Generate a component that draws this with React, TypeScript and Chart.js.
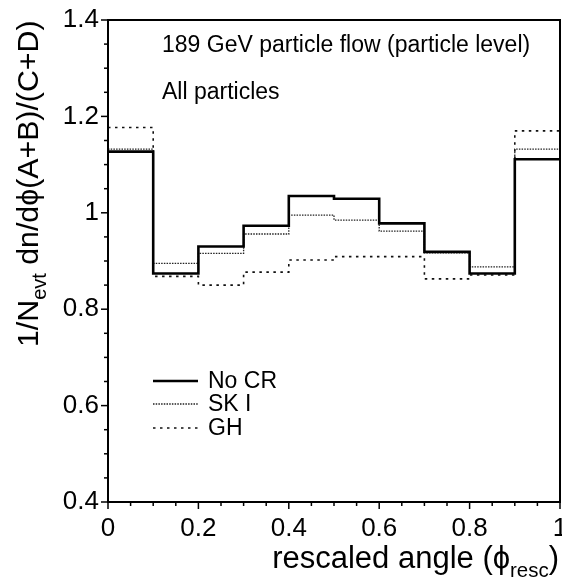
import React, { useEffect, useRef } from "react";
import { Chart, registerables } from "chart.js";

Chart.register(...registerables);

// ---- data ----
const binEdges = [0, 0.1, 0.2, 0.3, 0.4, 0.5, 0.6, 0.7, 0.8, 0.9, 1.0];
const noCR = [1.127, 0.874, 0.93, 0.973, 1.035, 1.029, 0.978, 0.919, 0.874, 1.111];
const skI = [1.132, 0.895, 0.916, 0.956, 0.995, 0.985, 0.962, 0.917, 0.888, 1.132];
const gh = [1.177, 0.868, 0.85, 0.877, 0.902, 0.909, 0.909, 0.863, 0.871, 1.17];
const seriesNames = ["No CR", "SK I", "GH"];
const xTickLabels = [0, 0.2, 0.4, 0.6, 0.8, 1];
const yTickLabels = [0.4, 0.6, 0.8, 1, 1.2, 1.4];
const annotationLines = ["189 GeV particle flow (particle level)", "All particles"];

const FONT = "'Liberation Sans', Arial, Helvetica, sans-serif";

function toSteps(values: number[]) {
  return binEdges.map((e, i) => ({ x: e, y: values[Math.min(i, values.length - 1)] }));
}

function findLabel(v: number, list: number[]) {
  return list.find((t) => Math.abs(t - v) < 1e-6);
}

type Part = { text: string; sub?: boolean };

function drawRich(ctx: CanvasRenderingContext2D, parts: Part[], x: number, y: number, size: number, align: "left" | "center" | "right") {
  const subSize = size * 0.66;
  const widths = parts.map((p) => {
    ctx.font = `${p.sub ? subSize : size}px ${FONT}`;
    return ctx.measureText(p.text).width;
  });
  const total = widths.reduce((a, b) => a + b, 0);
  let cx = align === "center" ? x - total / 2 : align === "right" ? x - total : x;
  ctx.textAlign = "left";
  ctx.textBaseline = "alphabetic";
  parts.forEach((p, i) => {
    ctx.font = `${p.sub ? subSize : size}px ${FONT}`;
    ctx.fillText(p.text, cx, y + (p.sub ? size * 0.28 : 0));
    cx += widths[i];
  });
}

const overlayPlugin = {
  id: "overlay",
  afterDraw(chart: any) {
    const { ctx, chartArea: a, scales } = chart;
    const xs = scales.x;
    const ys = scales.y;
    ctx.save();
    ctx.strokeStyle = "#000";
    ctx.fillStyle = "#000";

    // tick marks (outward, major longer)
    ctx.lineWidth = 1.5;
    xs.ticks.forEach((t: any) => {
      const px = xs.getPixelForValue(t.value);
      const major = findLabel(t.value, xTickLabels) !== undefined;
      ctx.beginPath();
      ctx.moveTo(px, a.bottom);
      ctx.lineTo(px, a.bottom + (major ? 7 : 4));
      ctx.stroke();
    });
    ys.ticks.forEach((t: any) => {
      const py = ys.getPixelForValue(t.value);
      const major = findLabel(t.value, yTickLabels) !== undefined;
      ctx.beginPath();
      ctx.moveTo(a.left, py);
      ctx.lineTo(a.left - (major ? 7 : 4), py);
      ctx.stroke();
    });

    // frame
    ctx.lineWidth = 2;
    ctx.strokeRect(a.left, a.top, a.right - a.left, a.bottom - a.top);

    // annotations
    ctx.font = `23px ${FONT}`;
    ctx.textAlign = "left";
    ctx.textBaseline = "middle";
    ctx.fillText(annotationLines[0], a.left + 54, a.top + 26);
    ctx.fillText(annotationLines[1], a.left + 54, a.top + 73);

    // legend
    const datasets = chart.data.datasets;
    const legendY = [381, 404, 428];
    datasets.forEach((ds: any, i: number) => {
      ctx.save();
      ctx.lineWidth = ds.borderWidth;
      ctx.setLineDash(ds.borderDash || []);
      ctx.strokeStyle = ds.borderColor;
      ctx.beginPath();
      ctx.moveTo(a.left + 45, legendY[i]);
      ctx.lineTo(a.left + 90, legendY[i]);
      ctx.stroke();
      ctx.restore();
      ctx.font = `23px ${FONT}`;
      ctx.textAlign = "left";
      ctx.textBaseline = "middle";
      ctx.fillText(ds.label, a.left + 100, legendY[i] + 1);
    });

    // x title
    drawRich(
      ctx,
      [{ text: "rescaled angle (\u03d5" }, { text: "resc", sub: true }, { text: ")" }],
      a.right - 1,
      568,
      31,
      "right"
    );

    // y title (rotated)
    ctx.save();
    ctx.translate(38, 0);
    ctx.rotate(-Math.PI / 2);
    drawRich(
      ctx,
      [{ text: "1/N" }, { text: "evt", sub: true }, { text: " dn/d\u03d5(A+B)/(C+D)" }],
      -347,
      0,
      30.3,
      "left"
    );
    ctx.restore();

    ctx.restore();
  },
};

export default function App() {
  const canvasRef = useRef<HTMLCanvasElement | null>(null);

  useEffect(() => {
    document.body.style.margin = "0";
    const canvas = canvasRef.current;
    if (!canvas) return;
    const tickFont = { family: FONT, size: 26 };
    const chart = new Chart(canvas, {
      type: "line",
      data: {
        datasets: [
          {
            label: seriesNames[0],
            data: toSteps(noCR),
            stepped: "before",
            borderColor: "#000",
            borderWidth: 2.6,
            borderDash: [],
            pointRadius: 0,
            fill: false,
          },
          {
            label: seriesNames[1],
            data: toSteps(skI),
            stepped: "before",
            borderColor: "#222",
            borderWidth: 1.3,
            borderDash: [1.5, 1.2],
            pointRadius: 0,
            fill: false,
          },
          {
            label: seriesNames[2],
            data: toSteps(gh),
            stepped: "before",
            borderColor: "#111",
            borderWidth: 1.6,
            borderDash: [2.5, 4.5],
            pointRadius: 0,
            fill: false,
          },
        ],
      } as any,
      options: {
        animation: false,
        responsive: false,
        devicePixelRatio: 1,
        layout: { padding: { top: 20, right: 2, left: 0, bottom: 0 } },
        plugins: {
          legend: { display: false },
          tooltip: { enabled: false },
        },
        scales: {
          x: {
            type: "linear",
            min: 0,
            max: 1,
            grid: { display: false, drawTicks: false },
            border: { display: false },
            ticks: {
              stepSize: 0.05,
              autoSkip: false,
              maxRotation: 0,
              padding: 11,
              color: "#000",
              font: tickFont,
              callback: (v: any) => {
                const l = findLabel(Number(v), xTickLabels);
                return l === undefined ? "" : String(l);
              },
            },
            afterFit: (s: any) => {
              s.height = 75;
              s.paddingLeft = 0;
              s.paddingRight = 0;
            },
          },
          y: {
            type: "linear",
            min: 0.4,
            max: 1.4,
            grid: { display: false, drawTicks: false },
            border: { display: false },
            ticks: {
              stepSize: 0.05,
              autoSkip: false,
              padding: 9,
              color: "#000",
              font: tickFont,
              callback: (v: any) => {
                const l = findLabel(Number(v), yTickLabels);
                return l === undefined ? "" : String(l);
              },
            },
            afterFit: (s: any) => {
              s.width = 108;
              s.paddingTop = 0;
              s.paddingBottom = 0;
            },
          },
        },
      } as any,
      plugins: [overlayPlugin],
    });
    return () => chart.destroy();
  }, []);

  return (
    <div style={{ width: 562, height: 577 }}>
      <canvas ref={canvasRef} width={562} height={577} />
    </div>
  );
}
